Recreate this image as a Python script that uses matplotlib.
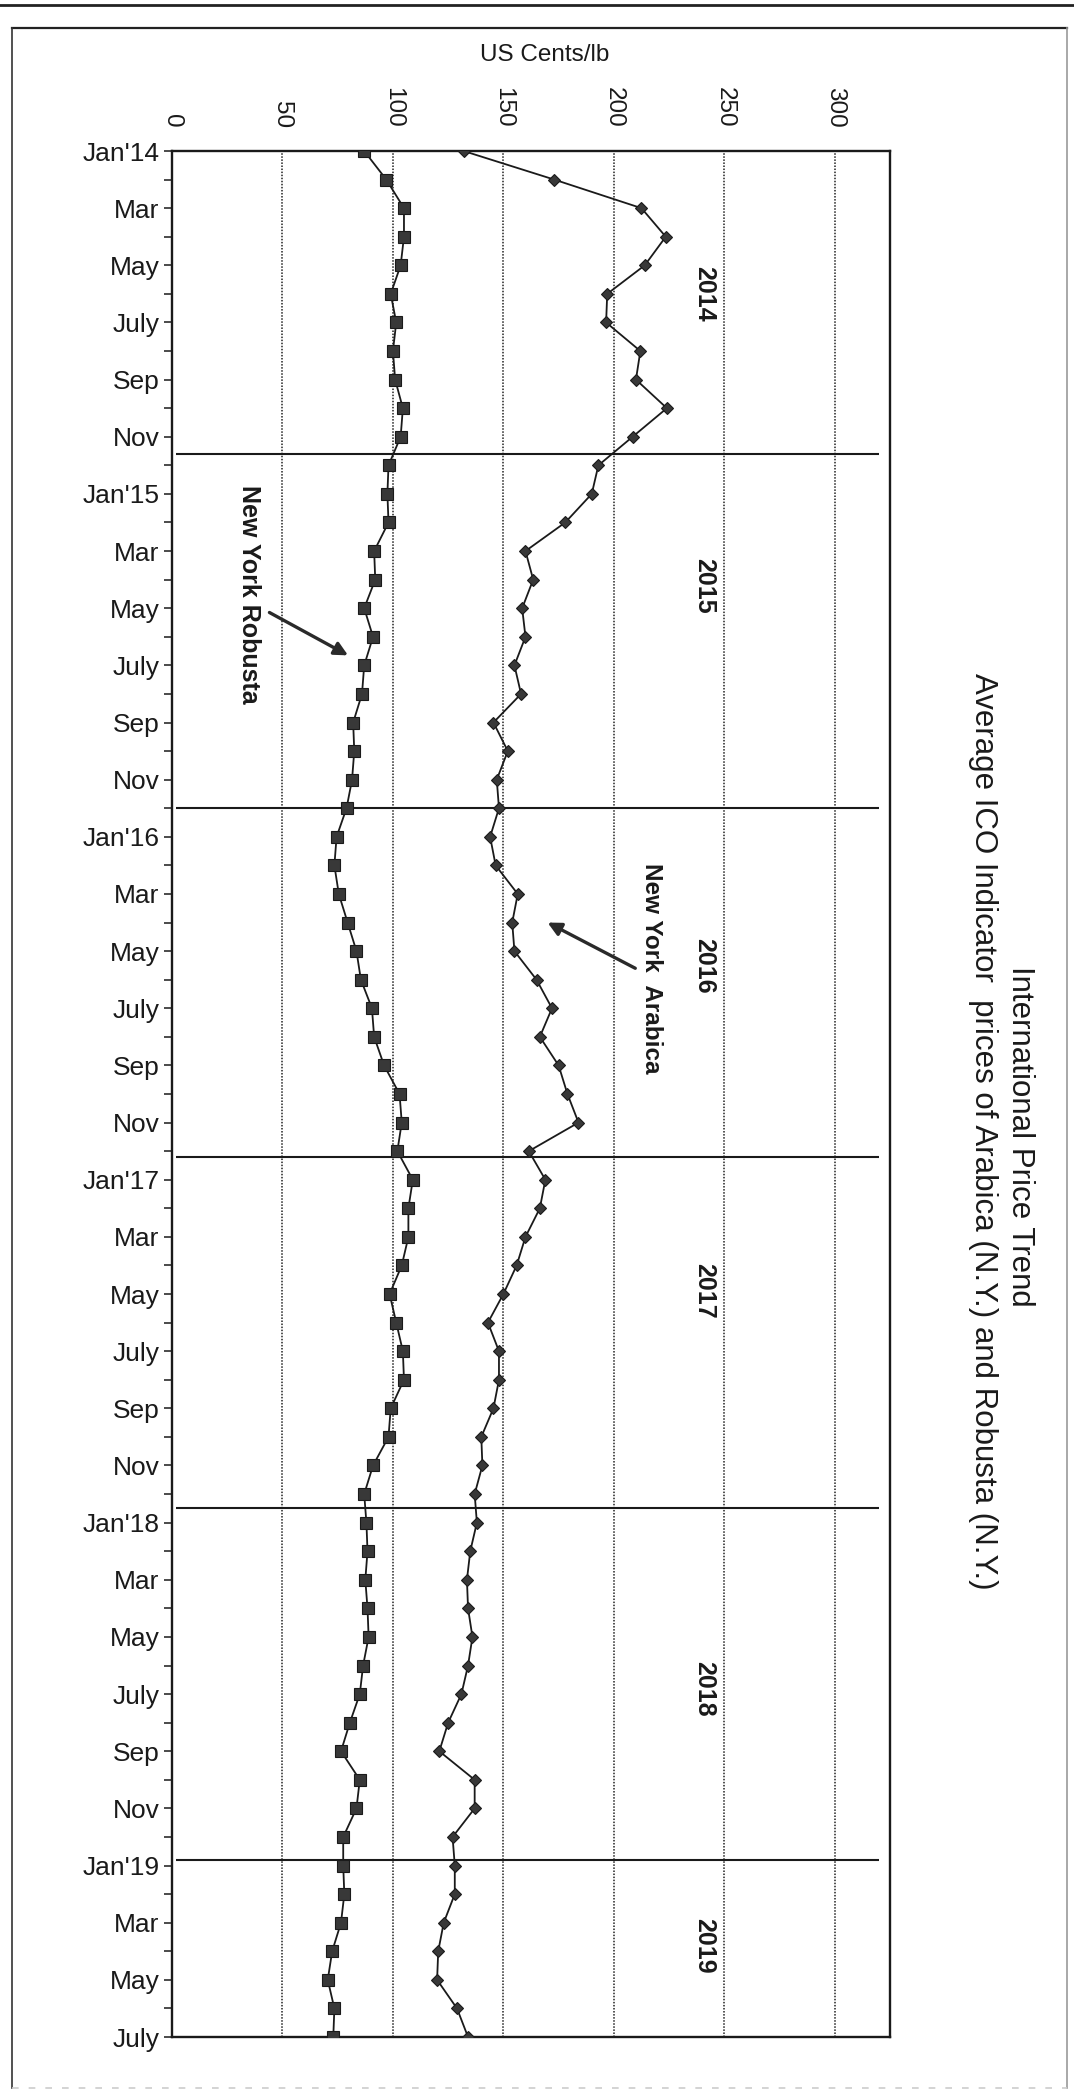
import matplotlib.pyplot as plt
from matplotlib.lines import Line2D
from matplotlib.ticker import MultipleLocator

plt.rcParams['font.family'] = ['Liberation Sans', 'DejaVu Sans']

month_labels = ["Jan'14", "Mar", "May", "July", "Sep", "Nov",
                "Jan'15", "Mar", "May", "July", "Sep", "Nov",
                "Jan'16", "Mar", "May", "July", "Sep", "Nov",
                "Jan'17", "Mar", "May", "July", "Sep", "Nov",
                "Jan'18", "Mar", "May", "July", "Sep", "Nov",
                "Jan'19", "Mar", "May", "July"]

# US cents/lb, monthly Jan 2014 .. Jul 2019
robusta = [87, 97, 105, 105, 103.5, 99, 101.5, 100, 101, 104.5, 103.5, 98,
           97.5, 98, 91.5, 92, 87, 91, 87, 86, 82, 82.5, 81.5, 79,
           74.5, 73.5, 75.5, 79.5, 83.5, 85.5, 90.5, 91.5, 96, 103, 104, 102,
           109, 107, 107, 104, 98.5, 101.5, 104.5, 105, 99, 98, 91, 87,
           88, 88.5, 87.5, 88.5, 89, 86.5, 85, 80.5, 76.5, 85, 83.5, 77.5,
           77.5, 78, 76.5, 72.5, 70.5, 73.5, 73]

arabica = [132, 173, 212.5, 223.5, 214, 197, 196.5, 212, 210, 224, 208.5, 193,
           190, 178, 160, 163.5, 158.5, 160, 155, 158, 145.5, 152, 147, 148,
           144, 146.5, 156.5, 154, 155, 165, 172, 166.5, 175, 179, 184, 161.5,
           169, 166.5, 160, 156, 150, 143, 148, 148, 145.5, 140, 140.5, 137,
           138, 135, 133.5, 134, 136, 134, 131, 125, 121, 137, 137, 127,
           128, 128, 123, 120.5, 120, 129, 134]

price_ticks = [0, 50, 100, 150, 200, 250, 300]
year_names = ['2014', '2015', '2016', '2017', '2018', '2019']
year_mid = [5.0, 15.2, 28.5, 39.9, 53.8, 62.8]
year_breaks = [10.6, 23.0, 35.2, 47.5, 59.8]

INK = '#1a1a1a'

W, H = 1074, 2099
fig = plt.figure(figsize=(W / 100, H / 100), dpi=100)
fig.patch.set_facecolor('white')

ax = fig.add_axes([172 / W, 1 - 2037 / H, (890 - 172) / W, (2037 - 151) / H])

months = list(range(len(robusta)))
ax.plot(robusta, months, color=INK, lw=1.3, marker='s', ms=9,
        mfc='#383838', mec=INK, mew=0.8, zorder=4)
ax.plot(arabica, months, color=INK, lw=1.3, marker='D', ms=6.6,
        mfc='#383838', mec=INK, mew=0.8, zorder=4)

ax.set_xlim(0, 325)
ax.set_ylim(len(months) - 1, 0)

# price axis on top, labels rotated like the scanned page
ax.xaxis.tick_top()
ax.set_xticks(price_ticks)
ax.set_xticklabels([str(t) for t in price_ticks], rotation=-90, fontsize=17.5)
ax.tick_params(axis='x', length=0, pad=16.5, colors=INK)
ax.grid(axis='x', linestyle=(0, (1, 1)), color='#222222', lw=1.1, zorder=1)

# month axis
ax.set_yticks(range(0, len(months), 2))
ax.set_yticklabels(month_labels, fontsize=19)
ax.yaxis.set_minor_locator(MultipleLocator(1))
ax.tick_params(axis='y', which='both', direction='out', length=6,
               width=1.1, pad=3, colors=INK)

for sp in ax.spines.values():
    sp.set_linewidth(1.7)
    sp.set_color(INK)

# year separators and labels
ax.hlines(year_breaks, 2, 320, color=INK, lw=1.5, zorder=2)
for name, y in zip(year_names, year_mid):
    ax.text(241, y, name, rotation=-90, ha='center', va='center',
            fontsize=18, fontweight='bold', color=INK)

# series annotations
ax.text(35, 15.5, 'New York Robusta', rotation=-90, ha='center', va='center',
        fontsize=18, fontweight='bold', color=INK)
ax.annotate('', xy=(79.7, 17.65), xytext=(44.1, 16.15),
            arrowprops=dict(arrowstyle='-|>', color='#2a2a2a', lw=2.4,
                            mutation_scale=20, shrinkA=0, shrinkB=0))
ax.text(217, 28.6, 'New York  Arabica', rotation=-90, ha='center', va='center',
        fontsize=17.5, fontweight='bold', color=INK)
ax.annotate('', xy=(170, 27.0), xytext=(209.7, 28.6),
            arrowprops=dict(arrowstyle='-|>', color='#2a2a2a', lw=2.4,
                            mutation_scale=20, shrinkA=0, shrinkB=0))

# axis caption and title
fig.text(545 / W, 1 - 55 / H, 'US Cents/lb', ha='center', va='center',
         fontsize=17.5, color=INK)
fig.text(1020 / W, 1 - 1136 / H, 'International Price Trend', rotation=-90,
         ha='center', va='center', fontsize=22.5, color=INK)
fig.text(983 / W, 1 - 1131 / H,
         'Average ICO Indicator  prices of Arabica (N.Y.) and Robusta (N.Y.)',
         rotation=-90, ha='center', va='center', fontsize=22.5, color=INK)

# page frame
fig.add_artist(Line2D([0, 1], [1 - 5 / H, 1 - 5 / H], transform=fig.transFigure,
                      color='#222222', lw=2))
fig.add_artist(Line2D([12 / W, 1067 / W], [1 - 28 / H, 1 - 28 / H],
                      transform=fig.transFigure, color='#222222', lw=1.6))
fig.add_artist(Line2D([12 / W, 12 / W], [1 - 28 / H, 1 - 2088 / H],
                      transform=fig.transFigure, color='#333333', lw=1.2))
fig.add_artist(Line2D([1067 / W, 1067 / W], [1 - 28 / H, 1 - 2088 / H],
                      transform=fig.transFigure, color='#999999', lw=1.2))
fig.add_artist(Line2D([12 / W, 1067 / W], [1 - 2088 / H, 1 - 2088 / H],
                      transform=fig.transFigure, color='#cccccc', lw=1.2,
                      linestyle=(0, (4, 6))))

fig.savefig('out.png', dpi=100, facecolor='white')
